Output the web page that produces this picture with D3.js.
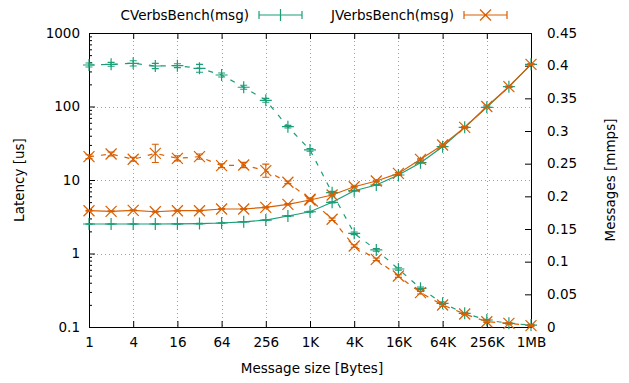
<!DOCTYPE html>
<html>
<head>
<meta charset="utf-8">
<script src="https://cdn.jsdelivr.net/npm/d3@7"></script>
<style>
  body { margin: 0; background: #fff; }
  svg text { font-family: "DejaVu Sans", sans-serif; font-size: 13.5px; fill: #000; }
</style>
</head>
<body>
<div id="chart"></div>
<script>
// message sizes: 1 B .. 1 MB, one point per power of two
var sizes = d3.range(0, 21).map(function (i) { return Math.pow(2, i); });
var xTickValues = [1, 4, 16, 64, 256, 1024, 4096, 16384, 65536, 262144, 1048576];
var xTickLabels = ["1", "4", "16", "64", "256", "1K", "4K", "16K", "64K", "256K", "1MB"];
var yTickValues = [0.1, 1, 10, 100, 1000];
var y2TickValues = [0, 0.05, 0.1, 0.15, 0.2, 0.25, 0.3, 0.35, 0.4, 0.45];

// latency [us]
var cLatency = [2.52, 2.52, 2.52, 2.52, 2.53, 2.55, 2.6, 2.7, 2.85, 3.24, 3.7,
                4.97, 7.15, 8.55, 11.7, 17.2, 28.4, 52, 97.5, 186, 375];
var cLatencyErr = [0.02, 0.02, 0.02, 0.02, 0.02, 0.02, 0.02, 0.02, 0.03, 0.04, 0.05,
                   0.08, 0.1, 0.15, 0.2, 0.3, 0.5, 1, 1.5, 3, 5];
var jLatency = [3.82, 3.75, 3.87, 3.7, 3.82, 3.82, 4.03, 4.03, 4.25, 4.67, 5.34,
                6.25, 8.1, 9.7, 12.3, 19.1, 29.9, 52, 100, 186, 375];
var jLatencyErr = [0.06, 0.05, 0.05, 0.06, 0.05, 0.05, 0.06, 0.06, 0.07, 0.1, 0.2,
                   0.15, 0.15, 0.2, 0.3, 0.4, 0.8, 1.5, 4, 4, 6];

// message rate [mmps]
var cRate = [0.401, 0.402, 0.4036, 0.3995, 0.4, 0.396, 0.3857, 0.367, 0.347, 0.3066, 0.271,
             0.2056, 0.1434, 0.118, 0.0888, 0.0592, 0.0363, 0.021, 0.0107, 0.0056, 0.003];
var cRateErr = [0.003, 0.003, 0.004, 0.004, 0.003, 0.006, 0.003, 0.003, 0.003, 0.002, 0.002,
                0.002, 0.002, 0.002, 0.002, 0.002, 0.002, 0.001, 0.001, 0.001, 0.001];
var jRate = [0.2607, 0.2648, 0.2567, 0.2658, 0.2582, 0.2607, 0.2469, 0.248, 0.2393, 0.2215, 0.1955,
             0.1649, 0.124, 0.1036, 0.078, 0.0525, 0.0337, 0.0199, 0.0081, 0.0056, 0.002];
var jRateErr = [0.003, 0.003, 0.003, 0.014, 0.004, 0.004, 0.003, 0.004, 0.01, 0.002, 0.002,
                0.002, 0.002, 0.002, 0.002, 0.002, 0.002, 0.001, 0.001, 0.001, 0.001];

var green = "#1b9e77", orange = "#d95f02";

var width = 629, height = 383;
var margin = {top: 33, right: 98, bottom: 56, left: 89};

var svg = d3.select("#chart").append("svg")
  .attr("width", width)
  .attr("height", height);

var x = d3.scaleLog().base(2)
  .domain([1, 1048576])
  .range([margin.left, width - margin.right]);
var y = d3.scaleLog()
  .domain([0.1, 1000])
  .range([height - margin.bottom, margin.top]);
var y2 = d3.scaleLinear()
  .domain([0, 0.45])
  .range([height - margin.bottom, margin.top]);

var x0 = margin.left, x1 = width - margin.right;
var yTop = margin.top, yBot = height - margin.bottom;

// grid
var grid = svg.append("g").attr("class", "grid")
  .style("stroke", "#a0a0a0")
  .style("stroke-width", 1)
  .style("stroke-dasharray", "1,3");
grid.selectAll(".gx")
  .data(xTickValues.slice(1, -1))
  .enter().append("line")
  .attr("x1", d => Math.round(x(d)) + 0.5).attr("x2", d => Math.round(x(d)) + 0.5)
  .attr("y1", yTop).attr("y2", yBot);
grid.selectAll(".gy")
  .data(yTickValues.slice(1, -1))
  .enter().append("line")
  .attr("x1", x0).attr("x2", x1)
  .attr("y1", d => Math.round(y(d)) + 0.5).attr("y2", d => Math.round(y(d)) + 0.5);

// axes
var fmtX = function (d) { return xTickLabels[xTickValues.indexOf(d)]; };
svg.append("g")
  .attr("transform", "translate(0," + yBot + ")")
  .call(d3.axisBottom(x).tickValues(xTickValues).tickFormat(fmtX).tickSize(-6).tickPadding(10))
  .call(g => g.select(".domain").remove());
svg.append("g")
  .attr("transform", "translate(0," + yTop + ")")
  .call(d3.axisTop(x).tickValues(xTickValues).tickFormat("").tickSize(-6))
  .call(g => g.select(".domain").remove());
svg.append("g")
  .attr("transform", "translate(" + x0 + ",0)")
  .call(d3.axisLeft(y).tickValues(yTickValues).tickFormat(d => String(d)).tickSize(-6).tickPadding(9))
  .call(g => g.select(".domain").remove());

// minor ticks on the log axis
var minors = [];
yTickValues.slice(0, -1).forEach(function (dec) {
  for (var k = 2; k <= 9; k++) minors.push(dec * k);
});
svg.append("g")
  .attr("transform", "translate(" + x0 + ",0)")
  .call(d3.axisLeft(y).tickValues(minors).tickFormat("").tickSize(-3))
  .call(g => g.select(".domain").remove());

svg.append("g")
  .attr("transform", "translate(" + x1 + ",0)")
  .call(d3.axisRight(y2).tickValues(y2TickValues).tickFormat(d => String(d)).tickSize(-6).tickPadding(16))
  .call(g => g.select(".domain").remove());

svg.selectAll(".tick line").attr("stroke", "#000");
svg.selectAll(".tick text").style("font-size", "13.5px").attr("fill", "#000");

// border
svg.append("rect")
  .attr("x", x0 + 0.5).attr("y", yTop + 0.5)
  .attr("width", x1 - x0).attr("height", yBot - yTop)
  .attr("fill", "none").attr("stroke", "#000").attr("stroke-width", 1);

// axis titles
svg.append("text")
  .attr("x", (x0 + x1) / 2 + 2).attr("y", 373)
  .attr("text-anchor", "middle")
  .text("Message size [Bytes]");
svg.append("text")
  .attr("transform", "translate(24," + (yTop + yBot) / 2 + ") rotate(-90)")
  .attr("text-anchor", "middle")
  .text("Latency [us]");
svg.append("text")
  .attr("transform", "translate(615," + (yTop + yBot) / 2 + ") rotate(-90)")
  .attr("text-anchor", "middle")
  .text("Messages [mmps]");

// markers
function plusPath(cx, cy, r) {
  return "M" + (cx - r) + "," + cy + "H" + (cx + r) + "M" + cx + "," + (cy - r) + "V" + (cy + r);
}
function crossPath(cx, cy, r) {
  return "M" + (cx - r) + "," + (cy - r) + "L" + (cx + r) + "," + (cy + r) +
         "M" + (cx - r) + "," + (cy + r) + "L" + (cx + r) + "," + (cy - r);
}

function drawSeries(vals, errs, yScale, color, marker, dashed) {
  var pts = sizes.map(function (s, i) { return {s: s, v: vals[i], e: errs[i]}; });
  var g = svg.append("g");
  var line = d3.line().x(d => x(d.s)).y(d => yScale(d.v));
  g.append("path")
    .datum(pts)
    .attr("d", line)
    .attr("fill", "none")
    .attr("stroke", color)
    .attr("stroke-width", 1.2)
    .attr("stroke-dasharray", dashed ? "5,7" : null);
  var cap = 3.5;
  g.selectAll(".err")
    .data(pts)
    .enter().append("path")
    .attr("d", function (d) {
      var cx = x(d.s), lo = yScale(Math.max(d.v - d.e, 1e-9)), hi = yScale(d.v + d.e);
      return "M" + cx + "," + lo + "V" + hi +
             "M" + (cx - cap) + "," + lo + "H" + (cx + cap) +
             "M" + (cx - cap) + "," + hi + "H" + (cx + cap);
    })
    .attr("fill", "none")
    .attr("stroke", color)
    .attr("stroke-width", 1.1);
  g.selectAll(".mk")
    .data(pts)
    .enter().append("path")
    .attr("d", d => marker(x(d.s), yScale(d.v), marker === plusPath ? 6 : 5.5))
    .attr("fill", "none")
    .attr("stroke", color)
    .attr("stroke-width", 1.2);
}

drawSeries(cLatency, cLatencyErr, y, green, plusPath, false);
drawSeries(cRate, cRateErr, y2, green, plusPath, true);
drawSeries(jLatency, jLatencyErr, y, orange, crossPath, false);
drawSeries(jRate, jRateErr, y2, orange, crossPath, true);

// legend
var legend = [
  {name: "CVerbsBench(msg)", color: green, marker: plusPath, tx: 249, sx: 259},
  {name: "JVerbsBench(msg)", color: orange, marker: crossPath, tx: 454, sx: 464}
];
var ly = 15;
legend.forEach(function (l) {
  svg.append("text")
    .attr("x", l.tx).attr("y", ly + 5)
    .attr("text-anchor", "end")
    .text(l.name);
  var sx0 = l.sx, sx1 = l.sx + 43, mid = (sx0 + sx1) / 2;
  svg.append("path")
    .attr("d", "M" + sx0 + "," + ly + "H" + sx1 +
               "M" + sx0 + "," + (ly - 4) + "V" + (ly + 4) +
               "M" + sx1 + "," + (ly - 4) + "V" + (ly + 4) + " " +
               l.marker(mid, ly, l.marker === plusPath ? 6 : 5.5))
    .attr("fill", "none")
    .attr("stroke", l.color)
    .attr("stroke-width", 1.2);
});
</script>
</body>
</html>
